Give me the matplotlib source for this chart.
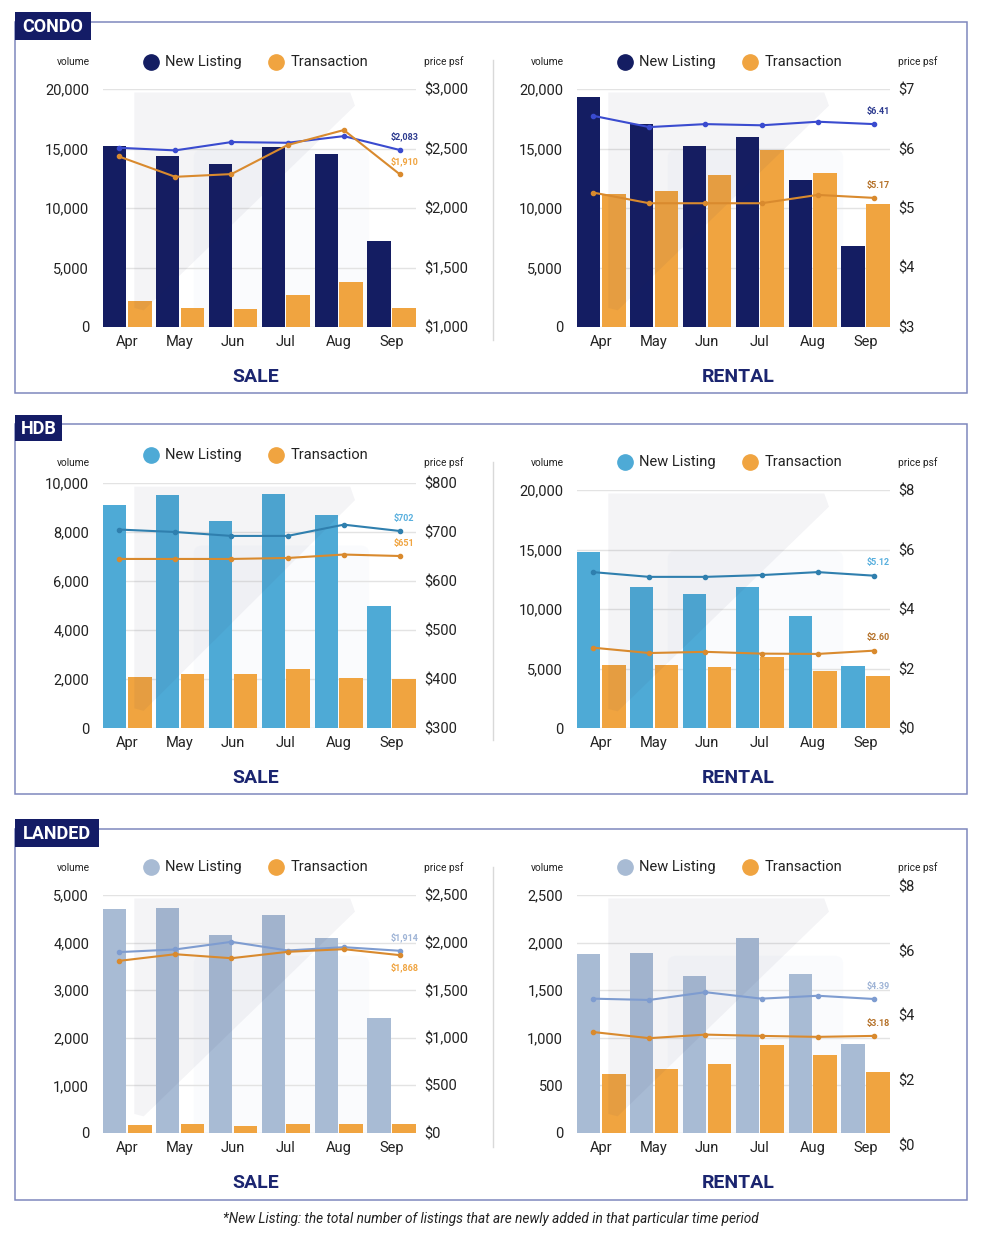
import matplotlib
matplotlib.use("Agg")
import matplotlib.pyplot as plt
from matplotlib.patches import Rectangle, Polygon, FancyBboxPatch
from matplotlib.lines import Line2D
import numpy as np

plt.rcParams['font.family'] = ['Roboto', 'DejaVu Sans']

W, H = 986, 1238

months = ["Apr", "May", "Jun", "Jul", "Aug", "Sep"]

# ---- CONDO ----
condo_sale_new = [15230, 14360, 13690, 15090, 14530, 7210]
condo_sale_trans = [2190, 1570, 1490, 2670, 3790, 1570]
condo_sale_new_psf = [2506, 2484, 2554, 2548, 2604, 2487]
condo_sale_trans_psf = [2433, 2262, 2285, 2529, 2655, 2282]
condo_sale_labels = ["$2,083", "$1,910"]

condo_rent_new = [19350, 17060, 15180, 15990, 12340, 6840]
condo_rent_trans = [11140, 11390, 12740, 14870, 12900, 10320]
condo_rent_new_psf = [6.55, 6.36, 6.41, 6.39, 6.45, 6.41]
condo_rent_trans_psf = [5.26, 5.08, 5.08, 5.08, 5.22, 5.17]
condo_rent_labels = ["$6.41", "$5.17"]

# ---- HDB ----
hdb_sale_new = [9110, 9500, 8430, 9550, 8680, 4990]
hdb_sale_trans = [2070, 2200, 2200, 2400, 2060, 2010]
hdb_sale_new_psf = [705, 700, 692, 692, 715, 702]
hdb_sale_trans_psf = [645, 645, 645, 647, 654, 651]
hdb_sale_labels = ["$702", "$651"]

hdb_rent_new = [14750, 11840, 11220, 11810, 9450, 5190]
hdb_rent_trans = [5270, 5270, 5130, 5950, 4800, 4350]
hdb_rent_new_psf = [5.24, 5.08, 5.08, 5.14, 5.24, 5.12]
hdb_rent_trans_psf = [2.70, 2.52, 2.56, 2.50, 2.49, 2.60]
hdb_rent_labels = ["$5.12", "$2.60"]

# ---- LANDED ----
landed_sale_new = [4700, 4730, 4160, 4570, 4090, 2420]
landed_sale_trans = [160, 180, 150, 190, 180, 180]
landed_sale_new_psf = [1900, 1928, 2008, 1917, 1952, 1914]
landed_sale_trans_psf = [1808, 1878, 1836, 1903, 1931, 1868]
landed_sale_labels = ["$1,914", "$1,868"]

landed_rent_new = [1880, 1890, 1650, 2050, 1670, 940]
landed_rent_trans = [625, 670, 727, 920, 815, 640]
landed_rent_new_psf = [4.52, 4.48, 4.72, 4.52, 4.61, 4.51]
landed_rent_trans_psf = [3.49, 3.30, 3.41, 3.37, 3.34, 3.37]
landed_rent_labels = ["$4.39", "$3.18"]

section_names = ["CONDO", "HDB", "LANDED"]
panel_titles = ["SALE", "RENTAL"]
legend_labels = ["New Listing", "Transaction"]
footnote = "*New Listing: the total number of listings that are newly added in that particular time period"

NAVY = "#141d62"
ORANGE = "#f0a440"
ORANGE_LINE = "#d98a2e"
BROWN_LBL = "#b5722a"
BORDER = "#7f87bd"
TXT = "#222222"

fig = plt.figure(figsize=(W / 100, H / 100), dpi=100)
fig.patch.set_facecolor("white")


def rect(x0, y0, x1, y1):
    return [x0 / W, 1 - y1 / H, (x1 - x0) / W, (y1 - y0) / H]


def ftxt(x, y, s, **kw):
    fig.text(x / W, 1 - y / H, s, **kw)


def panel(x0, x1, y0, y1, new, trans, new_psf, trans_psf, labels,
          vmax, vticks, vfmt, pmin, pmax, pticks, pfmt,
          ncolor, nline, nlbl, tlbl, title, title_x, leg_y, top_y, title_y,
          ry0=None, ry1=None, tlabel_below=False):
    ax = fig.add_axes(rect(x0, y0, x1, y1))
    ax.set_facecolor("none")
    x = np.arange(len(months))
    # watermark shapes
    wm_rect = FancyBboxPatch((0.29, 0.0), 0.56, 0.745,
                             boxstyle="round,pad=0,rounding_size=0.03",
                             transform=ax.transAxes, facecolor="#f1f6fc",
                             edgecolor="none", alpha=0.35, zorder=0.5)
    ax.add_patch(wm_rect)
    tri = Polygon([(0.10, 0.08), (0.10, 0.985), (0.79, 0.985), (0.805, 0.93), (0.13, 0.07)],
                  closed=True, transform=ax.transAxes, facecolor="#2a2a55",
                  edgecolor="none", alpha=0.05, zorder=5)
    ax.add_patch(tri)
    ax.bar(x - 0.234, new, width=0.443, color=ncolor, zorder=3)
    ax.bar(x + 0.237, trans, width=0.449, color=ORANGE, zorder=3)
    ax.set_xlim(-0.4555, 5.4615)
    ax.set_ylim(0, vmax)
    ax.set_yticks(vticks)
    ax.set_yticklabels([vfmt(v) for v in vticks])
    ax.set_xticks(x)
    ax.set_xticklabels(months)
    ax.tick_params(axis="both", length=0, labelsize=10.5, colors=TXT)
    ax.tick_params(axis="y", pad=10)
    ax.tick_params(axis="x", pad=6)
    ax.grid(axis="y", color="#e3e3e3", lw=1, zorder=0)
    for s in ax.spines.values():
        s.set_visible(False)

    if ry0 is None:
        ry0, ry1 = y0, y1
    ax2 = fig.add_axes(rect(x0, ry0, x1, ry1))
    ax2.set_facecolor("none")
    ax2.set_xlim(-0.285, 5.285)
    ax2.set_ylim(pmin, pmax)
    ax2.plot(x, new_psf, color=nline, lw=1.5, marker="o", ms=3, zorder=6)
    ax2.plot(x, trans_psf, color=ORANGE_LINE, lw=1.5, marker="o", ms=3, zorder=6)
    ax2.set_xticks([])
    ax2.yaxis.tick_right()
    ax2.set_yticks(pticks)
    ax2.set_yticklabels([pfmt(v) for v in pticks])
    ax2.tick_params(axis="y", length=0, labelsize=10.5, colors=TXT, pad=6)
    for s in ax2.spines.values():
        s.set_visible(False)
    ax2.annotate(labels[0], (5, new_psf[-1]), xytext=(3, 6), textcoords="offset points",
                 ha="center", va="bottom", fontsize=6.5, fontweight="bold", color=nlbl)
    if tlabel_below:
        ax2.annotate(labels[1], (5, trans_psf[-1]), xytext=(3, -5), textcoords="offset points",
                     ha="center", va="top", fontsize=6.5, fontweight="bold", color=tlbl)
    else:
        ax2.annotate(labels[1], (5, trans_psf[-1]), xytext=(3, 6), textcoords="offset points",
                     ha="center", va="bottom", fontsize=6.5, fontweight="bold", color=tlbl)

    # legend, axis captions, title
    off = x0 - 103
    fig.add_artist(Line2D([(151 + off) / W], [1 - leg_y / H], marker="o", ms=11,
                          color=ncolor, lw=0))
    ftxt(165 + off, leg_y, legend_labels[0], ha="left", va="center", fontsize=10.5, color=TXT)
    fig.add_artist(Line2D([(276 + off) / W], [1 - leg_y / H], marker="o", ms=11,
                          color=ORANGE, lw=0))
    ftxt(291 + off, leg_y, legend_labels[1], ha="left", va="center", fontsize=10.5, color=TXT)
    ftxt(90 + off, top_y, "volume", ha="right", va="center", fontsize=7.3, color=TXT)
    ftxt(424 + off, top_y, "price psf", ha="left", va="center", fontsize=7.3, color=TXT)
    ftxt(title_x, title_y, title, ha="center", va="center", fontsize=14,
         fontweight="bold", color="#1b2570")


def comma(v):
    return f"{int(v):,}"


def dollar_comma(v):
    return f"${int(v):,}"


def dollar(v):
    return f"${int(v)}"


# section frames
frames = [(22, 393, 12, 40, 91), (424, 794, 415, 441, 62), (829, 1200, 819, 847, 99)]
for (fy0, fy1, ly0, ly1, lx1), name in zip(frames, section_names):
    fig.add_artist(Rectangle((15 / W, 1 - fy1 / H), (967 - 15) / W, (fy1 - fy0) / H,
                             transform=fig.transFigure, fill=False, edgecolor=BORDER, lw=1.1))
    fig.add_artist(Rectangle((15 / W, 1 - ly1 / H), (lx1 - 15) / W, (ly1 - ly0) / H,
                             transform=fig.transFigure, facecolor="#141c66", edgecolor="none"))
    ftxt((15 + lx1) / 2, (ly0 + ly1) / 2 + 1, name, ha="center", va="center", fontsize=13,
         fontweight="bold", color="white")

# dividers
for dy0, dy1 in [(60, 340), (462, 740), (867, 1147)]:
    fig.add_artist(Line2D([493 / W, 493 / W], [1 - dy0 / H, 1 - dy1 / H], color="#d9d9d9", lw=1))

SX0, SX1 = 103, 416
RX0, RX1 = 577, 890
ST_X, RT_X = 256, 738

# CONDO
panel(SX0, SX1, 89, 327, condo_sale_new, condo_sale_trans, condo_sale_new_psf,
      condo_sale_trans_psf, condo_sale_labels, 20000, [0, 5000, 10000, 15000, 20000], comma,
      1000, 3000, [1000, 1500, 2000, 2500, 3000], dollar_comma,
      NAVY, "#3a4bcf", "#2c3a8f", ORANGE, panel_titles[0], ST_X, 62, 62, 377)
panel(RX0, RX1, 89, 327, condo_rent_new, condo_rent_trans, condo_rent_new_psf,
      condo_rent_trans_psf, condo_rent_labels, 20000, [0, 5000, 10000, 15000, 20000], comma,
      3, 7, [3, 4, 5, 6, 7], dollar,
      NAVY, "#3a4bcf", "#2c3a8f", BROWN_LBL, panel_titles[1], RT_X, 62, 62, 377)

# HDB
panel(SX0, SX1, 483, 728, hdb_sale_new, hdb_sale_trans, hdb_sale_new_psf,
      hdb_sale_trans_psf, hdb_sale_labels, 10000, [0, 2000, 4000, 6000, 8000, 10000], comma,
      300, 800, [300, 400, 500, 600, 700, 800], dollar,
      "#4eaad6", "#2f7fae", "#5ab0de", ORANGE, panel_titles[0], ST_X, 455, 463, 778)
panel(RX0, RX1, 490, 728, hdb_rent_new, hdb_rent_trans, hdb_rent_new_psf,
      hdb_rent_trans_psf, hdb_rent_labels, 20000, [0, 5000, 10000, 15000, 20000], comma,
      0, 8, [0, 2, 4, 6, 8], dollar,
      "#4eaad6", "#2f7fae", "#5ab0de", BROWN_LBL, panel_titles[1], RT_X, 462, 463, 778)

# LANDED
panel(SX0, SX1, 895, 1133, landed_sale_new, landed_sale_trans, landed_sale_new_psf,
      landed_sale_trans_psf, landed_sale_labels, 5000, [0, 1000, 2000, 3000, 4000, 5000], comma,
      0, 2500, [0, 500, 1000, 1500, 2000, 2500], dollar_comma,
      "#a8bbd4", "#7e9cd0", "#9fb4d6", ORANGE, panel_titles[0], ST_X, 867, 868, 1183,
      tlabel_below=True)
panel(RX0, RX1, 895, 1133, landed_rent_new, landed_rent_trans, landed_rent_new_psf,
      landed_rent_trans_psf, landed_rent_labels, 2500, [0, 500, 1000, 1500, 2000, 2500], comma,
      0, 8, [0, 2, 4, 6, 8], dollar,
      "#a8bbd4", "#7e9cd0", "#9fb4d6", BROWN_LBL, panel_titles[1], RT_X, 867, 868, 1183,
      ry0=886, ry1=1145)

ftxt(491, 1219, footnote, ha="center", va="center", fontsize=9.8, style="italic", color=TXT)

fig.savefig("out.png", dpi=100, facecolor="white")
